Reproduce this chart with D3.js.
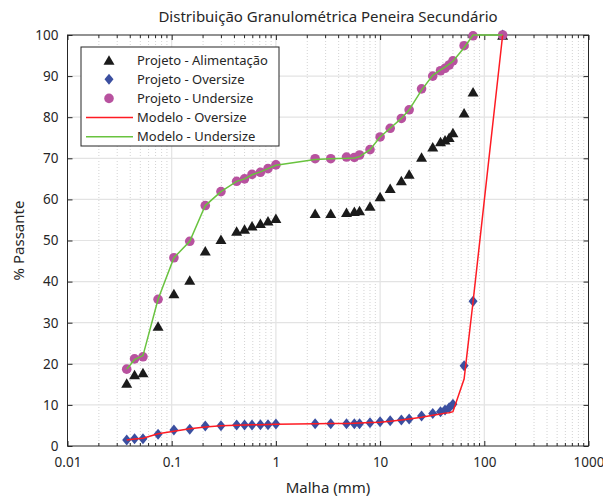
<!DOCTYPE html>
<html>
<head>
<meta charset="utf-8">
<script src="https://cdn.jsdelivr.net/npm/d3@7"></script>
<style>
  html, body { margin: 0; padding: 0; background: #fff; }
  svg { display: block; }
  text { font-family: "Noto Sans", "Open Sans", sans-serif; fill: #262626; }
</style>
</head>
<body>
<div id="chart"></div>
<script>
// sieve openings (mm)
const malha = [0.037, 0.044, 0.053, 0.074, 0.105, 0.149, 0.21, 0.297, 0.42, 0.5, 0.59, 0.71, 0.84, 1.0,
    2.38, 3.36, 4.76, 5.66, 6.35, 8.0, 10.0, 12.5, 16.0, 19.0, 25.0, 32.0, 38.0, 42.0, 46.0, 50.0, 64.0, 78.0, 150.0]

const projAlimentacao = [15.3, 17.4, 17.9, 29.2, 37.1, 40.4, 47.5, 50.3, 52.3, 52.8, 53.6, 54.2, 54.8, 55.4,
    56.6, 56.6, 56.9, 57.1, 57.3, 58.4, 60.7, 62.7, 64.6, 66.2, 70.3, 72.8, 74.1, 74.5, 75.1, 76.3, 81.1, 86.2, 100]

const projOversize = [1.46, 1.78, 1.78, 2.84, 3.89, 4.05, 4.87, 4.95, 5.1, 5.1, 5.1, 5.19, 5.19, 5.35,
    5.43, 5.43, 5.43, 5.43, 5.43, 5.67, 5.9, 6.16, 6.33, 6.57, 7.3, 7.9, 8.35, 8.76, 9.32, 10.15, 19.5, 35.2, 100]

const projUndersize = [18.7, 21.2, 21.7, 35.7, 45.8, 49.8, 58.5, 61.9, 64.4, 65.0, 66.1, 66.6, 67.5, 68.4,
    69.9, 69.9, 70.3, 70.2, 70.8, 72.1, 75.2, 77.3, 79.7, 81.8, 86.9, 90.0, 91.3, 91.9, 92.7, 93.7, 97.4, 99.8, 100]

const modOversize = [1.46, 1.7, 1.9, 3.0, 3.6, 4.2, 4.6, 4.9, 5.05, 5.1, 5.15, 5.2, 5.25, 5.3,
    5.4, 5.45, 5.5, 5.55, 5.6, 5.7, 5.8, 6.0, 6.3, 6.55, 7.0, 7.5, 7.8, 8.0, 8.1, 8.35, 16.3, 35.1, 100]

const modUndersize = [18.7, 21.0, 22.0, 35.7, 45.8, 49.8, 58.5, 61.9, 64.4, 65.0, 66.0, 66.7, 67.5, 68.3,
    69.7, 69.9, 70.0, 70.1, 70.4, 72.1, 75.2, 77.3, 79.7, 81.8, 86.6, 90.2, 91.5, 92.2, 92.9, 93.6, 96.9, 100, 100]

const xTicks = [0.01, 0.1, 1, 10, 100, 1000]
const xTickLabels = ["0.01", "0.1", "1", "10", "100", "1000"]
const yTicks = [0, 10, 20, 30, 40, 50, 60, 70, 80, 90, 100]

const legendItems = [
    { label: "Projeto - Alimentação", kind: "tri" },
    { label: "Projeto - Oversize", kind: "dia" },
    { label: "Projeto - Undersize", kind: "circ" },
    { label: "Modelo - Oversize", kind: "lineR" },
    { label: "Modelo - Undersize", kind: "lineG" }
]

const W = 603, H = 497
const mLeft = 67.5, mRight = 588.5, mTop = 35, mBottom = 446
const axisColor = "#262626"
const pink = "#b8529f", blue = "#3b4fa0", red = "#fe1b23", green = "#69c33f"

const svg = d3.select("#chart").append("svg").attr("width", W).attr("height", H)

const x = d3.scaleLog().domain([0.01, 1000]).range([mLeft, mRight])
const y = d3.scaleLinear().domain([0, 100]).range([mBottom, mTop])

// minor decade positions
const minors = []
for (let e = -2; e < 3; e++) {
    for (let k = 2; k <= 9; k++) minors.push(k * 10 ** e)
}

// grid
const grid = svg.append("g")
grid.selectAll("line.minor").data(minors).join("line")
    .attr("x1", d => x(d)).attr("x2", d => x(d)).attr("y1", mTop).attr("y2", mBottom)
    .attr("stroke", "#c8c8c8").attr("stroke-width", 0.8).attr("stroke-dasharray", "1,2")
grid.selectAll("line.vmaj").data(xTicks.slice(1, -1)).join("line")
    .attr("x1", d => x(d)).attr("x2", d => x(d)).attr("y1", mTop).attr("y2", mBottom)
    .attr("stroke", "#e3e3e3").attr("stroke-width", 1.2)
grid.selectAll("line.hmaj").data(yTicks.slice(1, -1)).join("line")
    .attr("x1", mLeft).attr("x2", mRight).attr("y1", d => y(d)).attr("y2", d => y(d))
    .attr("stroke", "#e3e3e3").attr("stroke-width", 1.2)

// axes (ticks inside, like matlab)
const xAxis = d3.axisBottom(x).tickValues(xTicks).tickFormat((d, i) => xTickLabels[i])
    .tickSize(-5).tickPadding(11)
const gx = svg.append("g").attr("transform", `translate(0,${mBottom})`).call(xAxis)
gx.select(".domain").remove()
gx.selectAll("line").attr("stroke", axisColor)
gx.selectAll("text").attr("font-size", 13.5).attr("fill", axisColor)

const gxTop = svg.append("g").attr("transform", `translate(0,${mTop})`)
    .call(d3.axisTop(x).tickValues(xTicks).tickFormat("").tickSize(-5))
gxTop.select(".domain").remove()
gxTop.selectAll("line").attr("stroke", axisColor)

// minor ticks bottom/top
svg.append("g").selectAll("line").data(minors).join("line")
    .attr("x1", d => x(d)).attr("x2", d => x(d)).attr("y1", mBottom).attr("y2", mBottom - 3)
    .attr("stroke", axisColor)
svg.append("g").selectAll("line").data(minors).join("line")
    .attr("x1", d => x(d)).attr("x2", d => x(d)).attr("y1", mTop).attr("y2", mTop + 3)
    .attr("stroke", axisColor)

const gy = svg.append("g").attr("transform", `translate(${mLeft},0)`)
    .call(d3.axisLeft(y).tickValues(yTicks).tickSize(-5).tickPadding(9))
gy.select(".domain").remove()
gy.selectAll("line").attr("stroke", axisColor)
gy.selectAll("text").attr("font-size", 13.5).attr("fill", axisColor)

const gyR = svg.append("g").attr("transform", `translate(${mRight},0)`)
    .call(d3.axisRight(y).tickValues(yTicks).tickFormat("").tickSize(-5))
gyR.select(".domain").remove()
gyR.selectAll("line").attr("stroke", axisColor)

svg.append("rect").attr("x", mLeft).attr("y", mTop).attr("width", mRight - mLeft).attr("height", mBottom - mTop)
    .attr("fill", "none").attr("stroke", axisColor).attr("stroke-width", 1)

// labels
svg.append("text").attr("x", (mLeft + mRight) / 2).attr("y", 22).attr("text-anchor", "middle")
    .attr("font-size", 15).text("Distribuição Granulométrica Peneira Secundário")
svg.append("text").attr("x", (mLeft + mRight) / 2).attr("y", 493).attr("text-anchor", "middle")
    .attr("font-size", 15).text("Malha (mm)")
svg.append("text").attr("transform", `translate(24,${(mTop + mBottom) / 2}) rotate(-90)`)
    .attr("text-anchor", "middle").attr("font-size", 15).text("% Passante")

// markers
const triPath = (w, h) => `M0,${-h / 2}L${w / 2},${h / 2}L${-w / 2},${h / 2}Z`
const diaPath = (w, h) => `M0,${-h / 2}L${w / 2},0L0,${h / 2}L${-w / 2},0Z`

const idx = d3.range(malha.length)
const plot = svg.append("g")

plot.selectAll("path.tri").data(idx).join("path")
    .attr("d", triPath(11, 9.5))
    .attr("transform", i => `translate(${x(malha[i])},${y(projAlimentacao[i])})`)
    .attr("fill", "#1b1b1b")

plot.selectAll("path.dia").data(idx).join("path")
    .attr("d", diaPath(9, 11))
    .attr("transform", i => `translate(${x(malha[i])},${y(projOversize[i])})`)
    .attr("fill", blue)

plot.selectAll("circle").data(idx).join("circle")
    .attr("cx", i => x(malha[i])).attr("cy", i => y(projUndersize[i])).attr("r", 4.8)
    .attr("fill", pink)

const line = vals => d3.line().x(i => x(malha[i])).y(i => y(vals[i]))(idx)
plot.append("path").attr("d", line(modOversize)).attr("fill", "none")
    .attr("stroke", red).attr("stroke-width", 1.5)
plot.append("path").attr("d", line(modUndersize)).attr("fill", "none")
    .attr("stroke", green).attr("stroke-width", 1.5)

// legend
const lg = svg.append("g")
lg.append("rect").attr("x", 81).attr("y", 47).attr("width", 198).attr("height", 99)
    .attr("fill", "#fff").attr("stroke", axisColor).attr("stroke-width", 1)
legendItems.forEach((it, i) => {
    const cy = 60 + i * 19.2
    const g = lg.append("g")
    if (it.kind === "tri") g.append("path").attr("d", triPath(11, 9.5)).attr("transform", `translate(109,${cy})`).attr("fill", "#1b1b1b")
    if (it.kind === "dia") g.append("path").attr("d", diaPath(9, 11)).attr("transform", `translate(109,${cy})`).attr("fill", blue)
    if (it.kind === "circ") g.append("circle").attr("cx", 109).attr("cy", cy).attr("r", 4.8).attr("fill", pink)
    if (it.kind === "lineR" || it.kind === "lineG") {
        g.append("line").attr("x1", 86).attr("x2", 133).attr("y1", cy).attr("y2", cy)
            .attr("stroke", it.kind === "lineR" ? red : green).attr("stroke-width", 1.5)
    }
    g.append("text").attr("x", 137).attr("y", cy).attr("dy", "0.35em").attr("font-size", 13).text(it.label)
})
</script>
</body>
</html>
